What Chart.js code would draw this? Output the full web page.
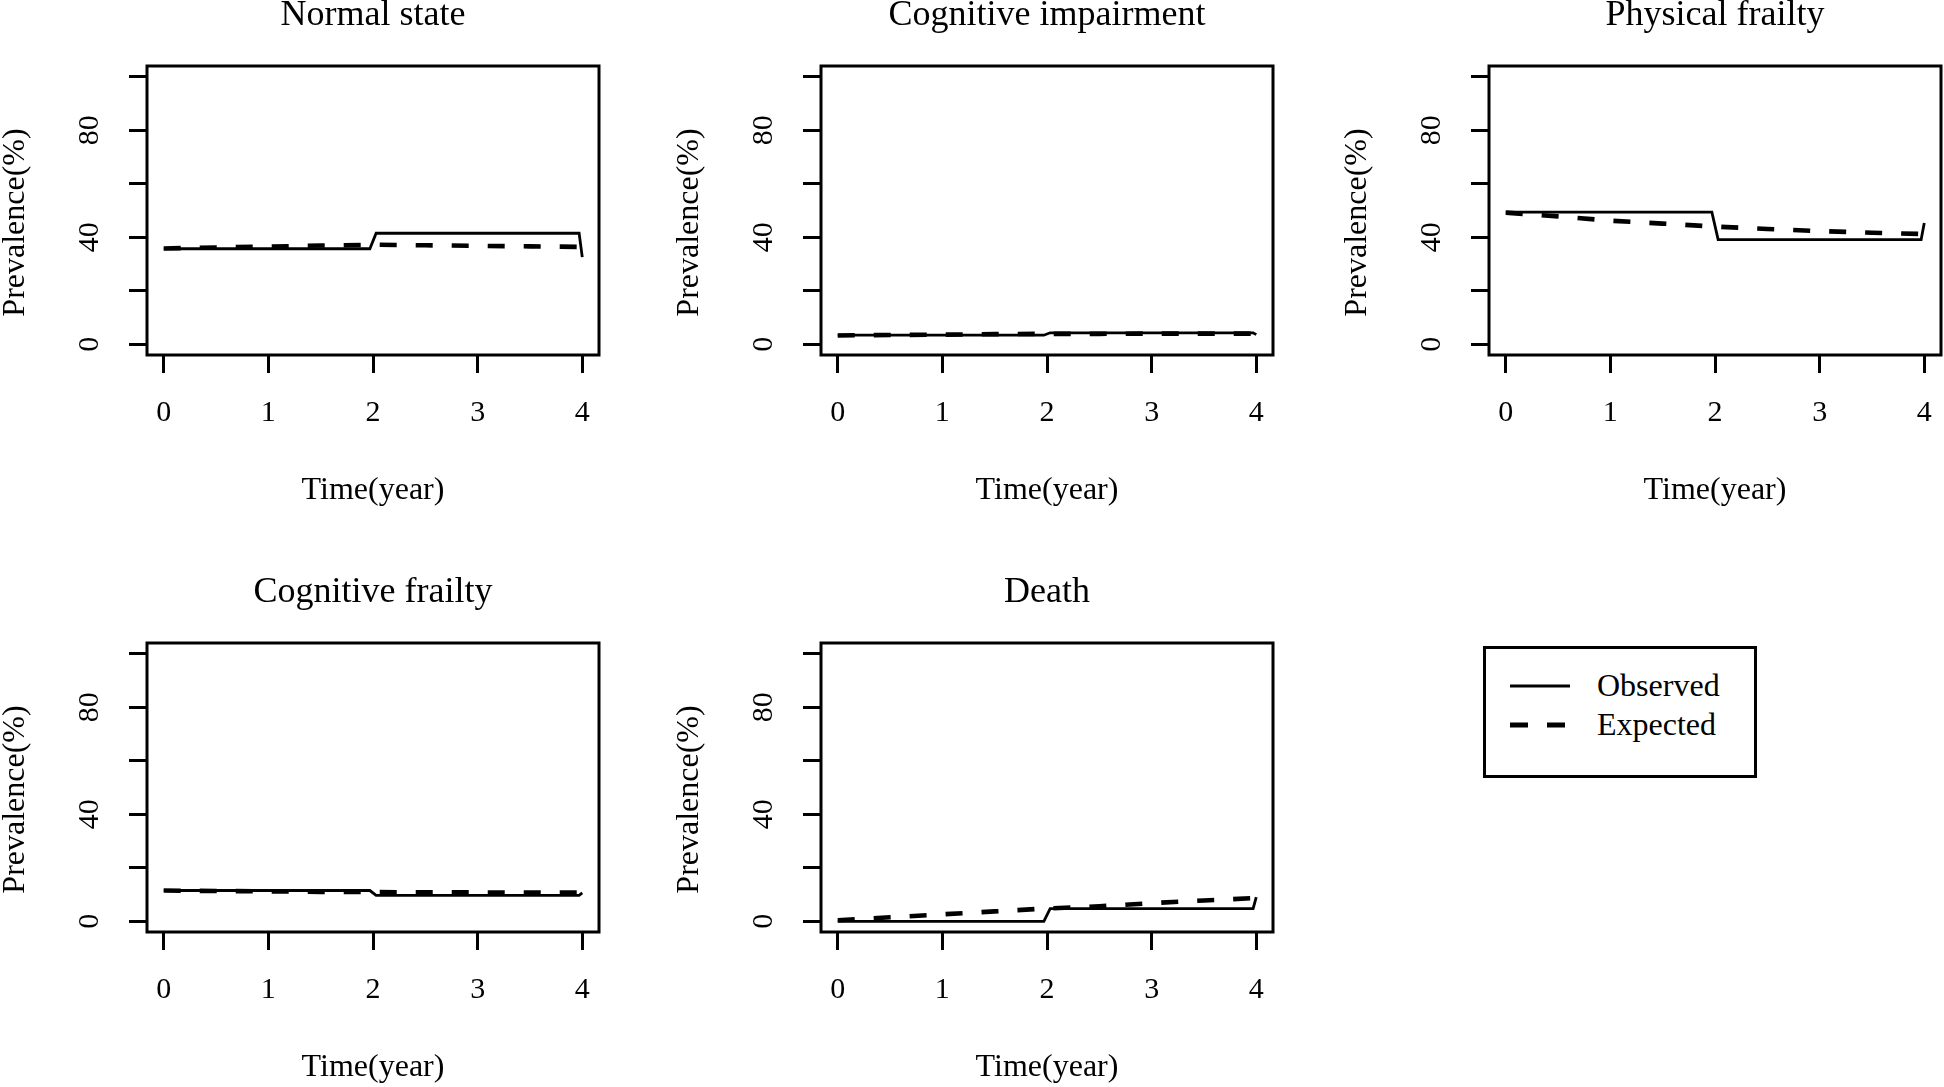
<!DOCTYPE html>
<html>
<head>
<meta charset="utf-8">
<title>Observed and expected prevalence by state</title>
<script src="https://cdn.jsdelivr.net/npm/chart.js@4.4.0/dist/chart.umd.min.js"></script>
<style>
  html, body { margin: 0; padding: 0; background: #fff; overflow: hidden; }
  body { position: relative; width: 1944px; height: 1087px; font-family: "Liberation Serif", "Times New Roman", serif; }
  canvas.panel { position: absolute; }
  #legend {
    position: absolute; left: 1483px; top: 646px;
    width: 268px; height: 109px; border: 3px solid #000;
    padding-top: 17px; box-sizing: content-box;
  }
  #legend .row { display: flex; align-items: center; height: 39px; font-size: 32px; color: #000; }
  #legend svg { margin-left: 24px; margin-right: 27px; }
</style>
</head>
<body>
<div id="legend"></div>
<script>
/* ── DATA ─────────────────────────────────────────────────
   Prevalence (%) per state.
──────────────────────────────────────────────────────────── */
const panelTitles = ['Normal state', 'Cognitive impairment', 'Physical frailty', 'Cognitive frailty', 'Death'];
const seriesNames = ['Observed', 'Expected'];

const xTickValues = [0, 1, 2, 3, 4];
const yTickValues = [0, 20, 40, 60, 80, 100];
const yTickLabels = [0, 40, 80];

// observed: step at year 2
const observedTime     = [0, 1.97, 2.03, 3.97, 4];
const normalObserved   = [35.7, 35.7, 41.5, 41.5, 32.6];
const cogImpObserved   = [3.4, 3.4, 4.3, 4.3, 3.6];
const physicalObserved = [49.4, 49.4, 39.1, 39.1, 45.3];
const cogFrailObserved = [11.5, 11.5, 9.7, 9.7, 10.6];
const deathObserved    = [0, 0, 4.7, 4.7, 9.0];

// expected: model curve
const expectedTime     = [0, 0.5, 1, 1.5, 2, 2.5, 3, 3.5, 4];
const normalExpected   = [35.8, 36.2, 36.5, 36.9, 37.2, 37.0, 36.8, 36.6, 36.4];
const cogImpExpected   = [3.3, 3.5, 3.6, 3.8, 3.9, 3.9, 4.0, 4.0, 4.0];
const physicalExpected = [49.2, 47.8, 46.2, 45.1, 44.0, 43.1, 42.3, 41.7, 41.2];
const cogFrailExpected = [11.5, 11.3, 11.2, 11.0, 10.9, 10.8, 10.8, 10.7, 10.7];
const deathExpected    = [0.4, 1.5, 2.6, 3.7, 4.8, 5.6, 6.8, 7.8, 8.7];

const observedSeries = [normalObserved, cogImpObserved, physicalObserved, cogFrailObserved, deathObserved];
const expectedSeries = [normalExpected, cogImpExpected, physicalExpected, cogFrailExpected, deathExpected];

/* ── LAYOUT / STYLE ───────────────────────────────────────── */
const FONT = '"Liberation Serif", "Times New Roman", serif';
const AXIS_W = 147;     // space left of the plot frame
const TOP_PAD = 66;     // space above the plot frame
const X_AXIS_H = 155;   // space below the plot frame
const BOX_W = 452, BOX_H = 289, RIGHT_PAD = 20;

// top-left corner of each plot frame on the page
const framePos = [[147, 66], [821, 66], [1489, 66], [147, 643], [821, 643]];

const lineWidths = [2.8, 4.6];
const lineDashes = [[], [17, 19]];

// frame + panel title, R style
const framePlugin = {
    id: 'frame',
    afterDraw(chart, args, opts) {
        const { ctx, chartArea: a } = chart;
        ctx.save();
        ctx.strokeStyle = '#000';
        ctx.lineWidth = 3;
        ctx.strokeRect(a.left, a.top, a.right - a.left, a.bottom - a.top);
        ctx.fillStyle = '#000';
        ctx.font = '36px ' + FONT;
        ctx.textAlign = 'center';
        ctx.textBaseline = 'middle';
        ctx.fillText(opts.title, (a.left + a.right) / 2, a.top - 50);
        ctx.restore();
    }
};

const gridOpts = { drawOnChartArea: false, tickLength: 18, lineWidth: 3, color: '#000' };

panelTitles.forEach((title, i) => {
    const canvas = document.createElement('canvas');
    canvas.className = 'panel';
    canvas.width = AXIS_W + BOX_W + RIGHT_PAD;
    canvas.height = TOP_PAD + BOX_H + X_AXIS_H;
    canvas.style.left = (framePos[i][0] - AXIS_W) + 'px';
    canvas.style.top = (framePos[i][1] - TOP_PAD) + 'px';
    document.body.appendChild(canvas);

    new Chart(canvas, {
        type: 'line',
        data: {
            datasets: [
                {
                    label: seriesNames[0],
                    data: observedTime.map((t, k) => ({ x: t, y: observedSeries[i][k] })),
                    borderColor: '#000',
                    borderWidth: lineWidths[0],
                    borderDash: lineDashes[0],
                    pointRadius: 0,
                    tension: 0,
                },
                {
                    label: seriesNames[1],
                    data: expectedTime.map((t, k) => ({ x: t, y: expectedSeries[i][k] })),
                    borderColor: '#000',
                    borderWidth: lineWidths[1],
                    borderDash: lineDashes[1],
                    pointRadius: 0,
                    tension: 0,
                }
            ]
        },
        options: {
            responsive: false,
            animation: false,
            devicePixelRatio: 1,
            layout: { padding: { top: TOP_PAD, right: RIGHT_PAD, bottom: 0, left: 0 } },
            plugins: {
                legend: { display: false },
                tooltip: { enabled: false },
                frame: { title },
            },
            scales: {
                x: {
                    type: 'linear',
                    min: -0.16,
                    max: 4.16,
                    afterBuildTicks: s => { s.ticks = xTickValues.map(v => ({ value: v })); },
                    afterFit: s => { s.height = X_AXIS_H; },
                    grid: gridOpts,
                    border: { display: false },
                    ticks: {
                        color: '#000',
                        font: { family: FONT, size: 30 },
                        padding: 22,
                        maxRotation: 0,
                        autoSkip: false,
                        callback: v => String(v),
                    },
                    title: {
                        display: true,
                        text: 'Time(year)',
                        color: '#000',
                        font: { family: FONT, size: 32, lineHeight: 1.2 },
                        padding: 0,
                    }
                },
                y: {
                    type: 'linear',
                    min: -4,
                    max: 104,
                    afterBuildTicks: s => { s.ticks = yTickValues.map(v => ({ value: v })); },
                    afterFit: s => { s.width = AXIS_W; },
                    grid: gridOpts,
                    border: { display: false },
                    ticks: {
                        color: '#000',
                        font: { family: FONT, size: 30 },
                        padding: 24,
                        minRotation: 90,
                        maxRotation: 90,
                        crossAlign: 'center',
                        autoSkip: false,
                        callback: v => yTickLabels.includes(v) ? String(v) : '',
                    },
                    title: {
                        display: true,
                        text: 'Prevalence(%)   ',
                        color: '#000',
                        font: { family: FONT, size: 32, lineHeight: 1 },
                        padding: 0,
                    }
                }
            }
        },
        plugins: [framePlugin]
    });
});

/* ── LEGEND ─────────────────────────────────────────────── */
const legendEl = document.getElementById('legend');
seriesNames.forEach((name, k) => {
    const row = document.createElement('div');
    row.className = 'row';
    const dash = lineDashes[k].length ? ' stroke-dasharray="18 19"' : '';
    row.innerHTML =
        `<svg width="60" height="8"><line x1="0" y1="4" x2="60" y2="4" stroke="#000" stroke-width="${k ? 5 : 3}"${dash}/></svg>` +
        `<span>${name}</span>`;
    legendEl.appendChild(row);
});
</script>
</body>
</html>
